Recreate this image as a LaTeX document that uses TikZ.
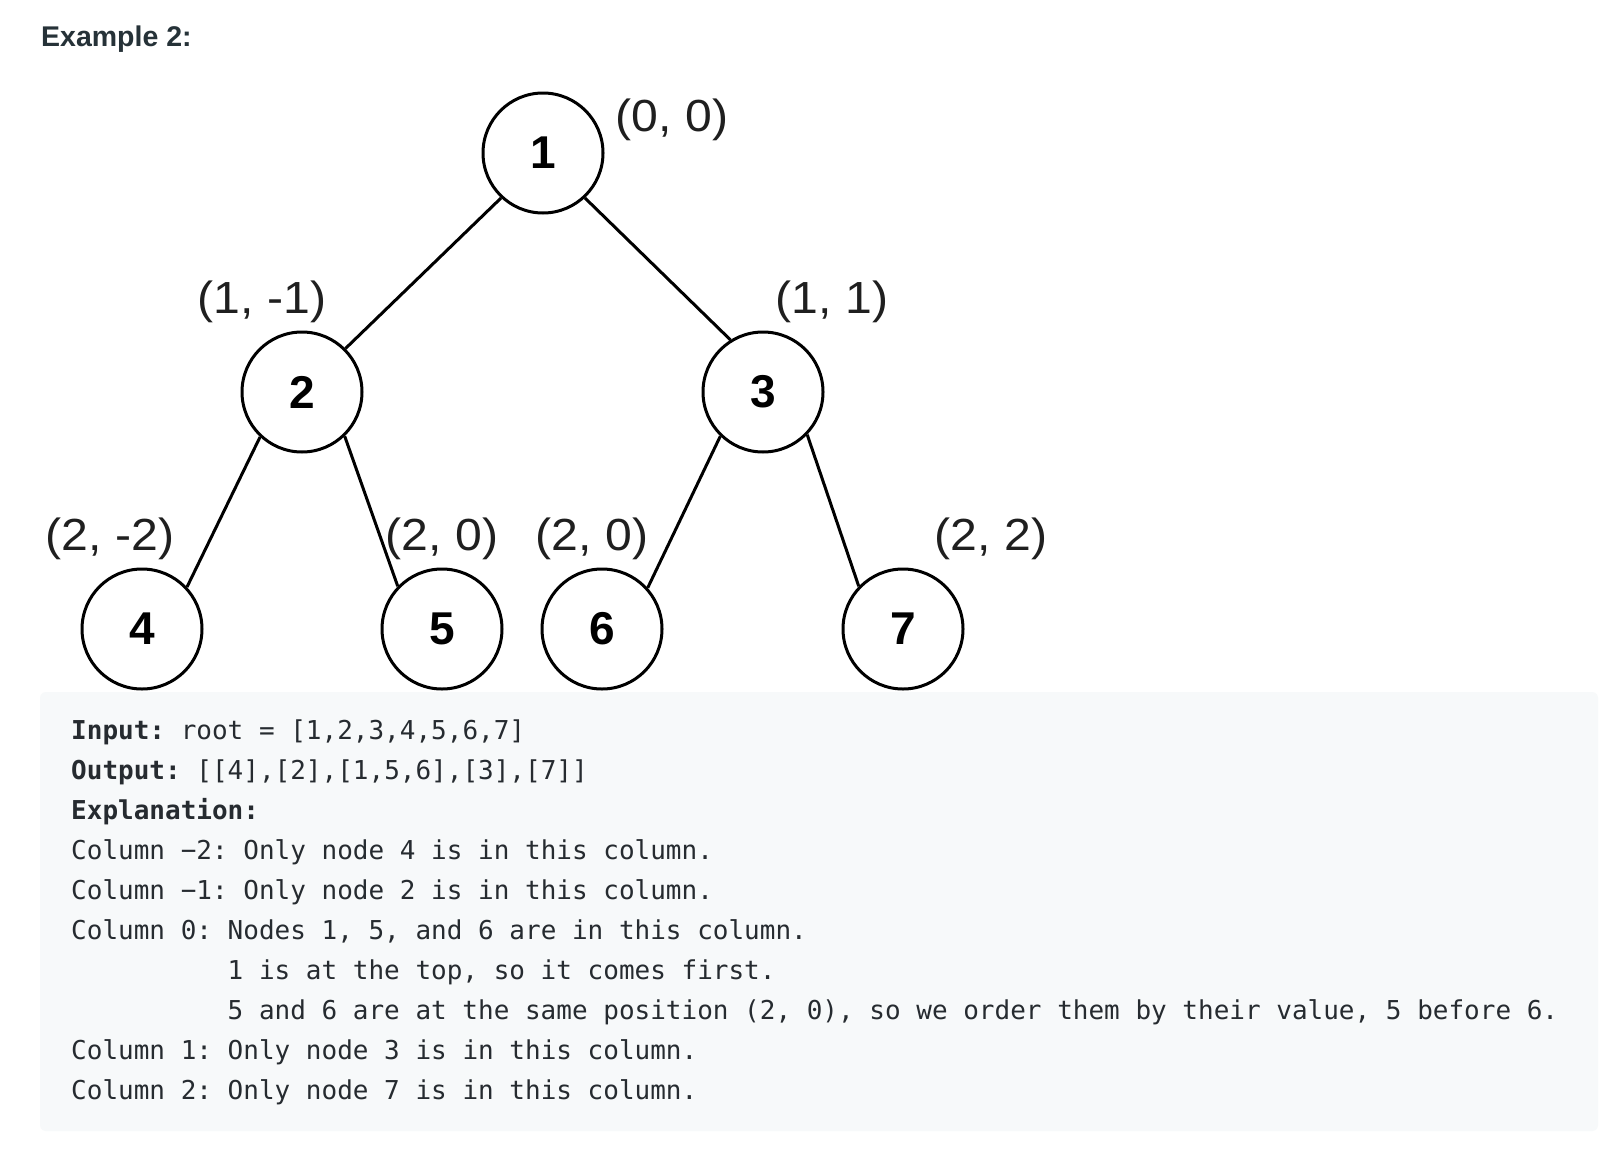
\documentclass[tikz,border=0pt]{standalone}
\usepackage{fontspec}
\setmainfont{Liberation Sans}
\newfontfamily\monofont{DejaVu Sans Mono}
\newfontfamily\labelfont[FakeStretch=1.07]{Liberation Sans}
\definecolor{boxbg}{HTML}{F7F9FA}
\definecolor{codetext}{HTML}{262B30}
\definecolor{headtext}{HTML}{263238}
\begin{document}
\begin{tikzpicture}[x=1pt,y=-1pt,
  treenode/.style={circle,draw=black,line width=3pt,minimum size=120pt,inner sep=0pt,
    font=\fontsize{46}{50}\selectfont\bfseries},
  coordlabel/.style={anchor=base,inner sep=0pt,font=\labelfont\fontsize{45}{50}\selectfont,text=black!88},
  treeedge/.style={line width=3pt,draw=black},
  codeline/.style={anchor=base west,inner sep=0pt,font=\monofont\fontsize{26}{30}\selectfont\frenchspacing,text=codetext}]
\useasboundingbox (0,0) rectangle (1618,1154);
\fill[white] (0,0) rectangle (1618,1154);

% title
\node[anchor=base west,inner sep=0pt,font=\fontsize{28.5}{32}\selectfont\bfseries,text=headtext] (title) at (41,46) {Example 2:};

% code box
\fill[boxbg,rounded corners=6pt] (40,692) rectangle (1598,1131);

% tree nodes
\node[treenode] (n1) at (543,153) {1};
\node[treenode] (n2) at (302,392) {2};
\node[treenode] (n3) at (763,392) {3};
\node[treenode] (n4) at (142,629) {4};
\node[treenode] (n5) at (442,629) {5};
\node[treenode] (n6) at (602,629) {6};
\node[treenode] (n7) at (903,629) {7};

% edges
\draw[treeedge] (n1.227) -- (n2.45);
\draw[treeedge] (n1.-47) -- (n3.122);
\draw[treeedge] (n2.227) -- (n4.43);
\draw[treeedge] (n2.-46) -- (n5.136);
\draw[treeedge] (n3.226) -- (n6.42);
\draw[treeedge] (n3.-44) -- (n7.136);

% coordinate labels
\node[coordlabel] (l1) at (672,131) {(0, 0)};
\node[coordlabel] (l2) at (262,313) {(1, -1)};
\node[coordlabel] (l3) at (832,313) {(1, 1)};
\node[coordlabel] (l4) at (110,550) {(2, -2)};
\node[coordlabel] (l5) at (442,550) {(2, 0)};
\node[coordlabel] (l6) at (592,550) {(2, 0)};
\node[coordlabel] (l7) at (991,550) {(2, 2)};

% code text
\node[codeline] (c1) at (71,739) {{\bfseries Input:} root = [1,2,3,4,5,6,7]};
\node[codeline] (c2) at (71,779) {{\bfseries Output:} [[4],[2],[1,5,6],[3],[7]]};
\node[codeline] (c3) at (71,819) {{\bfseries Explanation:}};
\node[codeline] (c4) at (71,859) {Column −2: Only node 4 is in this column.};
\node[codeline] (c5) at (71,899) {Column −1: Only node 2 is in this column.};
\node[codeline] (c6) at (71,939) {Column 0: Nodes 1, 5, and 6 are in this column.};
\node[codeline] (c7) at (227.5,979) {1 is at the top, so it comes first.};
\node[codeline] (c8) at (227.5,1019) {5 and 6 are at the same position (2, 0), so we order them by their value, 5 before 6.};
\node[codeline] (c9) at (71,1059) {Column 1: Only node 3 is in this column.};
\node[codeline] (c10) at (71,1099) {Column 2: Only node 7 is in this column.};
\end{tikzpicture}
\end{document}
